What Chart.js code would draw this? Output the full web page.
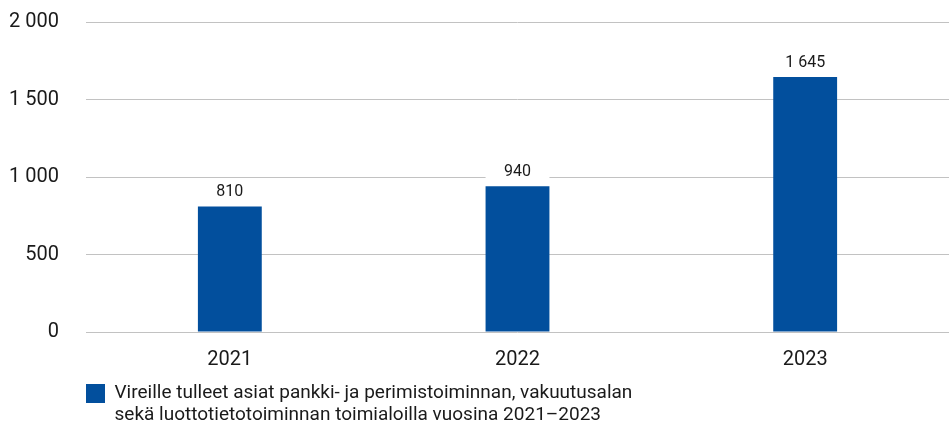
<!DOCTYPE html>
<html>
<head>
<meta charset="utf-8">
<script src="https://cdn.jsdelivr.net/npm/chart.js@4"></script>
<style>
html,body{margin:0;padding:0;background:#fff;}
#wrap{width:951px;height:428px;}
</style>
</head>
<body>
<div id="wrap"><canvas id="c" width="951" height="428"></canvas></div>
<script>
const categories = ['2021', '2022', '2023'];
const values = [810, 940, 1645];
const seriesLabel = ['Vireille tulleet asiat pankki- ja perimistoiminnan, vakuutusalan', 'sekä luottotietotoiminnan toimialoilla vuosina 2021\u20132023'];
const yTicks = [0, 500, 1000, 1500, 2000];

const fmt = v => new Intl.NumberFormat('fi-FI').format(v);
const BLUE = '#024f9d';
const TEXT = '#1a1a1a';

const valueLabels = {
  id: 'valueLabels',
  afterDatasetsDraw(chart) {
    const ctx = chart.ctx;
    const meta = chart.getDatasetMeta(0);
    ctx.save();
    ctx.font = '16px Roboto';
    ctx.textAlign = 'center';
    ctx.textBaseline = 'middle';
    meta.data.forEach((bar, i) => {
      const cy = bar.y - 14;
      ctx.fillStyle = '#ffffff';
      ctx.fillRect(bar.x - bar.width / 2, cy - 11, bar.width, 22);
      ctx.fillStyle = TEXT;
      ctx.fillText(fmt(values[i]), bar.x, cy);
    });
    ctx.restore();
  }
};

const legendSize = {
  id: 'legendSize',
  beforeLayout(chart) {
    const lg = chart.legend;
    if (lg && !lg._sizePatched) {
      const orig = lg.fit.bind(lg);
      lg.fit = function () { orig(); this.height = 44; };
      lg._sizePatched = true;
    }
  }
};

new Chart(document.getElementById('c'), {
  type: 'bar',
  data: {
    labels: categories,
    datasets: [{
      label: seriesLabel,
      data: values,
      backgroundColor: BLUE,
      borderWidth: 0,
      categoryPercentage: 1,
      barPercentage: 0.222
    }]
  },
  options: {
    responsive: false,
    animation: false,
    devicePixelRatio: 1,
    layout: { padding: { top: 0, right: 2, left: 0, bottom: 0 } },
    plugins: {
      tooltip: { enabled: false },
      legend: {
        display: true,
        position: 'bottom',
        align: 'start',
        fullSize: false,
        labels: {
          boxWidth: 20,
          boxHeight: 20,
          padding: -1,
          color: TEXT,
          font: { family: 'Roboto', size: 19, lineHeight: 1.15 }
        }
      }
    },
    scales: {
      x: {
        grid: { display: false },
        border: { display: false },
        afterFit(scale) { scale.height = 52; },
        ticks: { color: TEXT, font: { family: 'Roboto', size: 20 }, padding: 8 }
      },
      y: {
        min: 0,
        max: 2000,
        afterBuildTicks(scale) { scale.ticks = yTicks.map(v => ({ value: v })); },
        afterFit(scale) { scale.width = 86; },
        grid: { color: '#c2c2c2', lineWidth: 1, drawTicks: true, tickLength: 17, tickColor: 'rgba(0,0,0,0)' },
        border: { display: false },
        ticks: {
          color: TEXT,
          font: { family: 'Roboto', size: 20 },
          padding: 10,
          callback: v => fmt(v)
        }
      }
    }
  },
  plugins: [valueLabels, legendSize]
});
</script>
</body>
</html>
